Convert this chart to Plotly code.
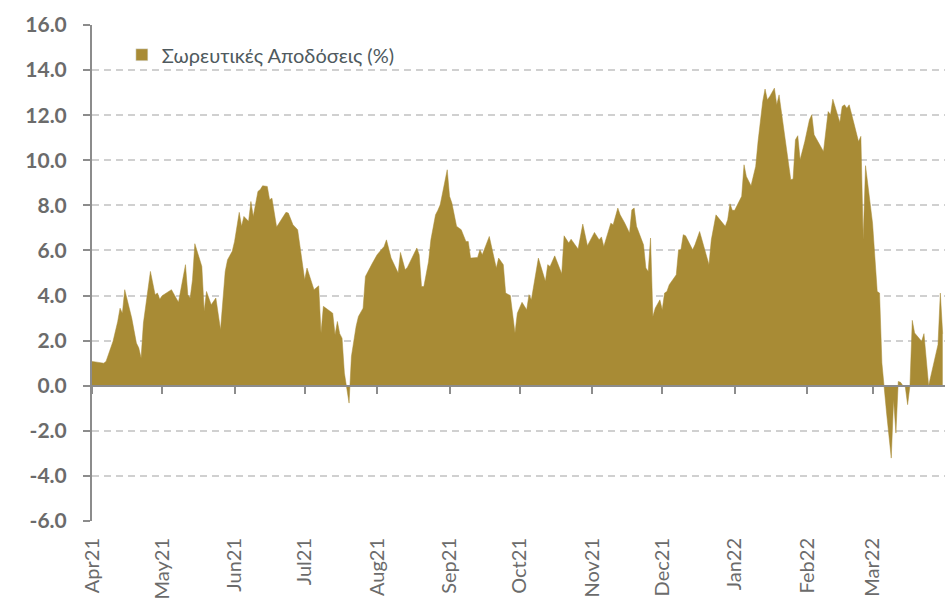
import plotly.graph_objects as go

dates = [
    "2021-04-01", "2021-04-06", "2021-04-07", "2021-04-10", "2021-04-12", "2021-04-13", "2021-04-14",
    "2021-04-15", "2021-04-18", "2021-04-20", "2021-04-21", "2021-04-22", "2021-04-23", "2021-04-24",
    "2021-04-26", "2021-04-28", "2021-04-29", "2021-04-30", "2021-05-01", "2021-05-05", "2021-05-08",
    "2021-05-11", "2021-05-12", "2021-05-13", "2021-05-14", "2021-05-15", "2021-05-18", "2021-05-19",
    "2021-05-20", "2021-05-22", "2021-05-24", "2021-05-26", "2021-05-28", "2021-05-29", "2021-05-31",
    "2021-06-01", "2021-06-03", "2021-06-04", "2021-06-05", "2021-06-07", "2021-06-08", "2021-06-09",
    "2021-06-11", "2021-06-12", "2021-06-13", "2021-06-15", "2021-06-16", "2021-06-17", "2021-06-19",
    "2021-06-23", "2021-06-24", "2021-06-26", "2021-06-28", "2021-07-01", "2021-07-02", "2021-07-05",
    "2021-07-07", "2021-07-08", "2021-07-09", "2021-07-13", "2021-07-14", "2021-07-15", "2021-07-16",
    "2021-07-17", "2021-07-18", "2021-07-20", "2021-07-21", "2021-07-23", "2021-07-24", "2021-07-26",
    "2021-07-27", "2021-07-30", "2021-08-01", "2021-08-04", "2021-08-05", "2021-08-07", "2021-08-10",
    "2021-08-11", "2021-08-13", "2021-08-14", "2021-08-18", "2021-08-19", "2021-08-20", "2021-08-21",
    "2021-08-23", "2021-08-24", "2021-08-26", "2021-08-27", "2021-08-28", "2021-08-31", "2021-09-01",
    "2021-09-02", "2021-09-04", "2021-09-06", "2021-09-08", "2021-09-09", "2021-09-10", "2021-09-13",
    "2021-09-14", "2021-09-15", "2021-09-18", "2021-09-21", "2021-09-22", "2021-09-24", "2021-09-25",
    "2021-09-27", "2021-09-29", "2021-09-30", "2021-10-02", "2021-10-04", "2021-10-05", "2021-10-06",
    "2021-10-09", "2021-10-12", "2021-10-13", "2021-10-14", "2021-10-16", "2021-10-19", "2021-10-20",
    "2021-10-22", "2021-10-23", "2021-10-26", "2021-10-28", "2021-10-30", "2021-11-02", "2021-11-04",
    "2021-11-05", "2021-11-06", "2021-11-09", "2021-11-10", "2021-11-12", "2021-11-13", "2021-11-15",
    "2021-11-17", "2021-11-18", "2021-11-19", "2021-11-20", "2021-11-23", "2021-11-24", "2021-11-25",
    "2021-11-26", "2021-11-27", "2021-11-28", "2021-11-30", "2021-12-01", "2021-12-02", "2021-12-03",
    "2021-12-04", "2021-12-07", "2021-12-08", "2021-12-09", "2021-12-10", "2021-12-11", "2021-12-14",
    "2021-12-15", "2021-12-17", "2021-12-21", "2021-12-22", "2021-12-24", "2021-12-28", "2021-12-29",
    "2021-12-30", "2021-12-31", "2022-01-01", "2022-01-04", "2022-01-05", "2022-01-06", "2022-01-08",
    "2022-01-10", "2022-01-11", "2022-01-13", "2022-01-14", "2022-01-15", "2022-01-16", "2022-01-18",
    "2022-01-19", "2022-01-20", "2022-01-25", "2022-01-26", "2022-01-27", "2022-01-28", "2022-01-29",
    "2022-01-31", "2022-02-02", "2022-02-03", "2022-02-04", "2022-02-08", "2022-02-10", "2022-02-11",
    "2022-02-12", "2022-02-15", "2022-02-16", "2022-02-17", "2022-02-18", "2022-02-19", "2022-02-21",
    "2022-02-23", "2022-02-24", "2022-02-25", "2022-02-26", "2022-03-01", "2022-03-03", "2022-03-04",
    "2022-03-05", "2022-03-06", "2022-03-07", "2022-03-09", "2022-03-10", "2022-03-11", "2022-03-12",
    "2022-03-13", "2022-03-14", "2022-03-15", "2022-03-16", "2022-03-17", "2022-03-18", "2022-03-19",
    "2022-03-21", "2022-03-22", "2022-03-23", "2022-03-25", "2022-03-29", "2022-03-30", "2022-03-31",
]

returns = [
    1.08, 1.00, 1.08, 1.97, 2.85, 3.44, 3.22,
    4.26, 3.00, 1.89, 1.68, 1.23, 2.78, 3.59,
    5.07, 4.04, 4.11, 3.84, 3.99, 4.26, 3.70,
    5.37, 4.04, 3.89, 4.70, 6.30, 5.29, 3.30,
    4.18, 3.59, 3.89, 2.48, 5.07, 5.59, 5.96,
    6.40, 7.69, 7.07, 7.51, 7.29, 8.17, 7.51,
    8.62, 8.70, 8.87, 8.84, 8.25, 8.32, 7.04,
    7.69, 7.66, 7.14, 6.92, 4.70, 5.22, 4.26,
    4.43, 2.34, 3.52, 3.22, 2.26, 2.85, 2.31,
    2.11, 0.56, -0.77, 1.30, 2.63, 3.07, 3.44,
    4.85, 5.44, 5.81, 6.18, 6.47, 5.66, 5.00,
    5.91, 5.14, 5.26, 6.11, 5.81, 4.40, 4.40,
    5.50, 6.47, 7.58, 7.78, 8.03, 9.58, 8.40,
    8.10, 7.07, 6.92, 6.40, 6.40, 5.66, 5.69,
    6.03, 5.81, 6.62, 5.22, 5.66, 5.37, 4.11,
    4.00, 2.34, 3.22, 3.70, 3.37, 4.04, 3.81,
    5.66, 4.63, 5.37, 5.29, 5.76, 4.97, 6.65,
    6.33, 6.50, 6.06, 7.17, 6.21, 6.80, 6.47,
    6.60, 6.18, 7.21, 7.14, 7.88, 7.58, 7.21,
    6.77, 7.80, 7.88, 7.07, 6.25, 5.22, 5.07,
    6.55, 3.07, 3.44, 3.81, 3.37, 4.11, 4.18,
    4.48, 4.92, 6.03, 6.03, 6.70, 6.65, 6.03,
    6.25, 6.84, 5.37, 6.47, 7.58, 7.07, 7.36,
    8.07, 7.78, 7.78, 8.40, 9.80, 9.28, 8.87,
    9.73, 10.83, 12.61, 13.16, 12.68, 12.83, 13.20,
    12.46, 12.90, 9.14, 9.17, 10.91, 11.09, 10.02,
    10.83, 11.80, 12.02, 11.13, 10.39, 12.16, 12.02,
    12.71, 11.68, 12.39, 12.46, 12.31, 12.46, 11.65,
    10.83, 11.06, 6.47, 9.76, 7.21, 4.18, 4.11,
    1.01, 0.04, -1.21, -3.21, -0.62, -2.10, 0.19,
    0.15, 0.00, -0.05, -0.84, 0.00, 2.90, 2.34,
    2.11, 1.97, 2.31, 0.00, 1.82, 4.11, 2.30,
]

month_ticks = [
    "2021-04-01", "2021-05-01", "2021-06-01", "2021-07-01", "2021-08-01", "2021-09-01",
    "2021-10-01", "2021-11-01", "2021-12-01", "2022-01-01", "2022-02-01", "2022-03-01",
]
month_labels = ["Apr21", "May21", "Jun21", "Jul21", "Aug21", "Sep21",
                "Oct21", "Nov21", "Dec21", "Jan22", "Feb22", "Mar22"]
y_ticks = [-6, -4, -2, 0, 2, 4, 6, 8, 10, 12, 14, 16]
y_labels = ["-6.0", "-4.0", "-2.0", "0.0", "2.0", "4.0", "6.0", "8.0",
            "10.0", "12.0", "14.0", "16.0"]

GOLD = "#A88B35"
AXIS = "#8c8c8c"
TEXT = "#6b6b6b"
FONT = "Lato"
x_range = ["2021-04-01", "2022-04-01"]

fig = go.Figure()
fig.add_trace(go.Scatter(x=dates, y=returns, mode="lines", fill="tozeroy",
                         fillcolor=GOLD, line=dict(color=GOLD, width=0.5),
                         showlegend=False, hoverinfo="skip"))
# square swatch for the legend
fig.add_trace(go.Bar(x=[None], y=[None], marker_color=GOLD,
                     name="Σωρευτικές Αποδόσεις (%)", showlegend=True))
# invisible copy so the axis drawn at zero gets rendered
fig.add_trace(go.Scatter(x=dates, y=returns, xaxis="x2", mode="lines",
                         line=dict(width=0), opacity=0, showlegend=False, hoverinfo="skip"))

fig.update_layout(
    width=945, height=599,
    margin=dict(l=92, r=0, t=25, b=78),
    plot_bgcolor="white", paper_bgcolor="white",
    font=dict(family=FONT, color=TEXT),
    showlegend=True,
    legend=dict(x=0.035, y=0.94, xanchor="left", yanchor="middle",
                bgcolor="rgba(0,0,0,0)", itemwidth=30,
                font=dict(size=20, color="#4f5a5e")),
    xaxis=dict(type="date", range=x_range, tickvals=month_ticks, ticktext=month_labels,
               tickangle=-90, tickfont=dict(size=20), showgrid=False, showline=False,
               zeroline=False, ticks="", ticklabelstandoff=12, automargin=False),
    xaxis2=dict(type="date", overlaying="x", anchor="free", position=6 / 22, range=x_range,
                tickvals=month_ticks, showticklabels=False, ticks="outside", ticklen=7,
                tickwidth=2, tickcolor=AXIS, showline=True, linecolor=AXIS, linewidth=2,
                showgrid=False, zeroline=False, side="bottom"),
    yaxis=dict(range=[-6, 16], tickvals=y_ticks, ticktext=y_labels,
               showgrid=True, gridcolor="#d0d0d0", gridwidth=2, griddash="7px,5px",
               showline=True, linecolor=AXIS, linewidth=2, ticks="outside", ticklen=7,
               tickwidth=2, tickcolor=AXIS, tickfont=dict(size=21, weight="bold"),
               zeroline=False, ticklabelstandoff=12, automargin=False),
)

# drop the page's default body margin so the figure fills the window exactly
fig.write_html("out.html", config={"displayModeBar": False},
               post_script="document.body.style.margin='0';")
